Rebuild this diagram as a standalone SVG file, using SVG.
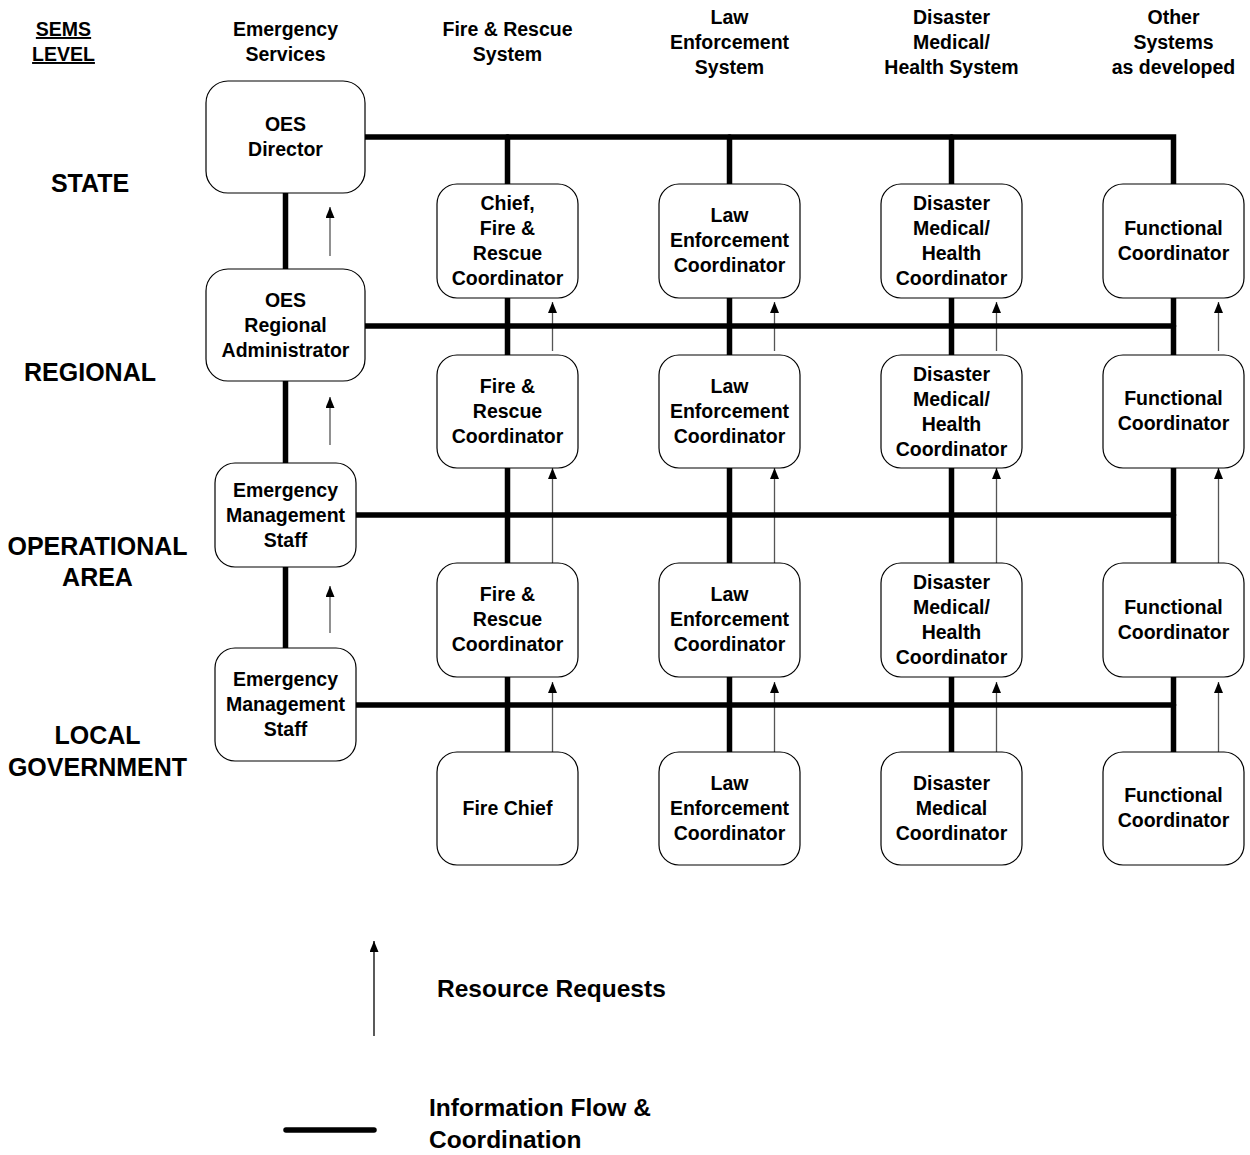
<svg xmlns="http://www.w3.org/2000/svg" width="1250" height="1155" viewBox="0 0 1250 1155">
  <style>
    text { font-family: "Liberation Sans", Arial, sans-serif; font-weight: bold; fill: #000; }
    .hdr { font-size: 19.5px; text-anchor: middle; }
    .lvl { font-size: 25px; text-anchor: middle; }
    .lbl { font-size: 19.5px; text-anchor: middle; }
    .leg { font-size: 24.5px; }
    .box { fill: #fff; stroke: #000; stroke-width: 1.2; }
    .info { fill: none; stroke: #000; stroke-width: 5.5; stroke-linecap: round; stroke-linejoin: miter; }
    .req { fill: none; stroke: #555; stroke-width: 1.3; marker-end: url(#head); }
  </style>
  <defs>
    <marker id="head" viewBox="0 0 11 9" refX="11" refY="4.5" markerWidth="11" markerHeight="9" markerUnits="userSpaceOnUse" orient="auto">
      <path d="M0,0 L11,4.5 L0,9 z" fill="#000"/>
    </marker>
  </defs>
  <rect width="1250" height="1155" fill="#fff"/>

  <!-- column headers -->
  <g id="headers">
    <text class="hdr" x="63.5" y="36" text-decoration="underline">SEMS</text>
    <text class="hdr" x="63.5" y="61" text-decoration="underline">LEVEL</text>
    <text class="hdr" x="285.5" y="36">Emergency</text>
    <text class="hdr" x="285.5" y="61">Services</text>
    <text class="hdr" x="507.5" y="36">Fire &amp; Rescue</text>
    <text class="hdr" x="507.5" y="61">System</text>
    <text class="hdr" x="729.5" y="24">Law</text>
    <text class="hdr" x="729.5" y="49">Enforcement</text>
    <text class="hdr" x="729.5" y="74">System</text>
    <text class="hdr" x="951.5" y="24">Disaster</text>
    <text class="hdr" x="951.5" y="49">Medical/</text>
    <text class="hdr" x="951.5" y="74">Health System</text>
    <text class="hdr" x="1173.5" y="24">Other</text>
    <text class="hdr" x="1173.5" y="49">Systems</text>
    <text class="hdr" x="1173.5" y="74">as developed</text>
  </g>

  <!-- SEMS level labels -->
  <g id="levels">
    <text class="lvl" x="90" y="192">STATE</text>
    <text class="lvl" x="90" y="381">REGIONAL</text>
    <text class="lvl" x="97.5" y="555">OPERATIONAL</text>
    <text class="lvl" x="97.5" y="586">AREA</text>
    <text class="lvl" x="97.5" y="744">LOCAL</text>
    <text class="lvl" x="97.5" y="776">GOVERNMENT</text>
  </g>

  <!-- connectors: resource request arrows, then information flow lines -->
  <g id="connectors">
    <g id="requests">
      <line class="req" x1="330" y1="256" x2="330" y2="207"/>
      <line class="req" x1="330" y1="445" x2="330" y2="397"/>
      <line class="req" x1="330" y1="633" x2="330" y2="586"/>

      <line class="req" x1="552.5" y1="351" x2="552.5" y2="302"/>
      <line class="req" x1="552.5" y1="563" x2="552.5" y2="468"/>
      <line class="req" x1="552.5" y1="752" x2="552.5" y2="682"/>

      <line class="req" x1="774.5" y1="351" x2="774.5" y2="302"/>
      <line class="req" x1="774.5" y1="563" x2="774.5" y2="468"/>
      <line class="req" x1="774.5" y1="752" x2="774.5" y2="682"/>

      <line class="req" x1="996.5" y1="351" x2="996.5" y2="302"/>
      <line class="req" x1="996.5" y1="563" x2="996.5" y2="468"/>
      <line class="req" x1="996.5" y1="752" x2="996.5" y2="682"/>

      <line class="req" x1="1218.5" y1="351" x2="1218.5" y2="302"/>
      <line class="req" x1="1218.5" y1="563" x2="1218.5" y2="468"/>
      <line class="req" x1="1218.5" y1="752" x2="1218.5" y2="682"/>
    </g>
    <g id="info-flow">
      <!-- emergency services chain -->
      <line class="info" x1="285.5" y1="193" x2="285.5" y2="269"/>
      <line class="info" x1="285.5" y1="381" x2="285.5" y2="463"/>
      <line class="info" x1="285.5" y1="567" x2="285.5" y2="648"/>

      <!-- level buses -->
      <polyline class="info" points="365,137 1173.5,137 1173.5,184"/>
      <line class="info" x1="365" y1="326" x2="1173.5" y2="326"/>
      <line class="info" x1="356" y1="515" x2="1173.5" y2="515"/>
      <line class="info" x1="356" y1="705" x2="1173.5" y2="705"/>

      <!-- system columns -->
      <line class="info" x1="507.5" y1="137" x2="507.5" y2="184"/>
      <line class="info" x1="507.5" y1="298" x2="507.5" y2="355"/>
      <line class="info" x1="507.5" y1="468" x2="507.5" y2="563"/>
      <line class="info" x1="507.5" y1="677" x2="507.5" y2="752"/>

      <line class="info" x1="729.5" y1="137" x2="729.5" y2="184"/>
      <line class="info" x1="729.5" y1="298" x2="729.5" y2="355"/>
      <line class="info" x1="729.5" y1="468" x2="729.5" y2="563"/>
      <line class="info" x1="729.5" y1="677" x2="729.5" y2="752"/>

      <line class="info" x1="951.5" y1="137" x2="951.5" y2="184"/>
      <line class="info" x1="951.5" y1="298" x2="951.5" y2="355"/>
      <line class="info" x1="951.5" y1="468" x2="951.5" y2="563"/>
      <line class="info" x1="951.5" y1="677" x2="951.5" y2="752"/>

      <line class="info" x1="1173.5" y1="298" x2="1173.5" y2="355"/>
      <line class="info" x1="1173.5" y1="468" x2="1173.5" y2="563"/>
      <line class="info" x1="1173.5" y1="677" x2="1173.5" y2="752"/>
    </g>
  </g>

  <!-- emergency services column -->
  <g id="oes-director">
    <rect class="box" x="206" y="81" width="159" height="112" rx="22"/>
    <text class="lbl" x="285.5" y="131">OES</text>
    <text class="lbl" x="285.5" y="156">Director</text>
  </g>
  <g id="oes-regional">
    <rect class="box" x="206" y="269" width="159" height="112" rx="22"/>
    <text class="lbl" x="285.5" y="307">OES</text>
    <text class="lbl" x="285.5" y="332">Regional</text>
    <text class="lbl" x="285.5" y="357">Administrator</text>
  </g>
  <g id="ems-operational">
    <rect class="box" x="215" y="463" width="141" height="104" rx="20"/>
    <text class="lbl" x="285.5" y="497">Emergency</text>
    <text class="lbl" x="285.5" y="522">Management</text>
    <text class="lbl" x="285.5" y="547">Staff</text>
  </g>
  <g id="ems-local">
    <rect class="box" x="215" y="648" width="141" height="113" rx="20"/>
    <text class="lbl" x="285.5" y="686">Emergency</text>
    <text class="lbl" x="285.5" y="711">Management</text>
    <text class="lbl" x="285.5" y="736">Staff</text>
  </g>

  <!-- fire & rescue column -->
  <g id="fire-state">
    <rect class="box" x="437" y="184" width="141" height="114" rx="20"/>
    <text class="lbl" x="507.5" y="210">Chief,</text>
    <text class="lbl" x="507.5" y="235">Fire &amp;</text>
    <text class="lbl" x="507.5" y="260">Rescue</text>
    <text class="lbl" x="507.5" y="285">Coordinator</text>
  </g>
  <g id="fire-regional">
    <rect class="box" x="437" y="355" width="141" height="113" rx="20"/>
    <text class="lbl" x="507.5" y="393">Fire &amp;</text>
    <text class="lbl" x="507.5" y="418">Rescue</text>
    <text class="lbl" x="507.5" y="443">Coordinator</text>
  </g>
  <g id="fire-operational">
    <rect class="box" x="437" y="563" width="141" height="114" rx="20"/>
    <text class="lbl" x="507.5" y="601">Fire &amp;</text>
    <text class="lbl" x="507.5" y="626">Rescue</text>
    <text class="lbl" x="507.5" y="651">Coordinator</text>
  </g>
  <g id="fire-local">
    <rect class="box" x="437" y="752" width="141" height="113" rx="20"/>
    <text class="lbl" x="507.5" y="815">Fire Chief</text>
  </g>

  <!-- law enforcement column -->
  <g id="law-state">
    <rect class="box" x="659" y="184" width="141" height="114" rx="20"/>
    <text class="lbl" x="729.5" y="222">Law</text>
    <text class="lbl" x="729.5" y="247">Enforcement</text>
    <text class="lbl" x="729.5" y="272">Coordinator</text>
  </g>
  <g id="law-regional">
    <rect class="box" x="659" y="355" width="141" height="113" rx="20"/>
    <text class="lbl" x="729.5" y="393">Law</text>
    <text class="lbl" x="729.5" y="418">Enforcement</text>
    <text class="lbl" x="729.5" y="443">Coordinator</text>
  </g>
  <g id="law-operational">
    <rect class="box" x="659" y="563" width="141" height="114" rx="20"/>
    <text class="lbl" x="729.5" y="601">Law</text>
    <text class="lbl" x="729.5" y="626">Enforcement</text>
    <text class="lbl" x="729.5" y="651">Coordinator</text>
  </g>
  <g id="law-local">
    <rect class="box" x="659" y="752" width="141" height="113" rx="20"/>
    <text class="lbl" x="729.5" y="790">Law</text>
    <text class="lbl" x="729.5" y="815">Enforcement</text>
    <text class="lbl" x="729.5" y="840">Coordinator</text>
  </g>

  <!-- disaster medical / health column -->
  <g id="medical-state">
    <rect class="box" x="881" y="184" width="141" height="114" rx="20"/>
    <text class="lbl" x="951.5" y="210">Disaster</text>
    <text class="lbl" x="951.5" y="235">Medical/</text>
    <text class="lbl" x="951.5" y="260">Health</text>
    <text class="lbl" x="951.5" y="285">Coordinator</text>
  </g>
  <g id="medical-regional">
    <rect class="box" x="881" y="355" width="141" height="113" rx="20"/>
    <text class="lbl" x="951.5" y="381">Disaster</text>
    <text class="lbl" x="951.5" y="406">Medical/</text>
    <text class="lbl" x="951.5" y="431">Health</text>
    <text class="lbl" x="951.5" y="456">Coordinator</text>
  </g>
  <g id="medical-operational">
    <rect class="box" x="881" y="563" width="141" height="114" rx="20"/>
    <text class="lbl" x="951.5" y="589">Disaster</text>
    <text class="lbl" x="951.5" y="614">Medical/</text>
    <text class="lbl" x="951.5" y="639">Health</text>
    <text class="lbl" x="951.5" y="664">Coordinator</text>
  </g>
  <g id="medical-local">
    <rect class="box" x="881" y="752" width="141" height="113" rx="20"/>
    <text class="lbl" x="951.5" y="790">Disaster</text>
    <text class="lbl" x="951.5" y="815">Medical</text>
    <text class="lbl" x="951.5" y="840">Coordinator</text>
  </g>

  <!-- other systems column -->
  <g id="other-state">
    <rect class="box" x="1103" y="184" width="141" height="114" rx="20"/>
    <text class="lbl" x="1173.5" y="235">Functional</text>
    <text class="lbl" x="1173.5" y="260">Coordinator</text>
  </g>
  <g id="other-regional">
    <rect class="box" x="1103" y="355" width="141" height="113" rx="20"/>
    <text class="lbl" x="1173.5" y="405">Functional</text>
    <text class="lbl" x="1173.5" y="430">Coordinator</text>
  </g>
  <g id="other-operational">
    <rect class="box" x="1103" y="563" width="141" height="114" rx="20"/>
    <text class="lbl" x="1173.5" y="614">Functional</text>
    <text class="lbl" x="1173.5" y="639">Coordinator</text>
  </g>
  <g id="other-local">
    <rect class="box" x="1103" y="752" width="141" height="113" rx="20"/>
    <text class="lbl" x="1173.5" y="802">Functional</text>
    <text class="lbl" x="1173.5" y="827">Coordinator</text>
  </g>

  <!-- legend -->
  <g id="legend">
    <line x1="374" y1="1036" x2="374" y2="941" stroke="#000" stroke-width="1.3" marker-end="url(#head)"/>
    <text class="leg" x="437" y="997">Resource Requests</text>
    <line x1="286" y1="1130" x2="374" y2="1130" stroke="#000" stroke-width="5.5" stroke-linecap="round"/>
    <text class="leg" x="429" y="1116">Information Flow &amp;</text>
    <text class="leg" x="429" y="1148">Coordination</text>
  </g>
</svg>
